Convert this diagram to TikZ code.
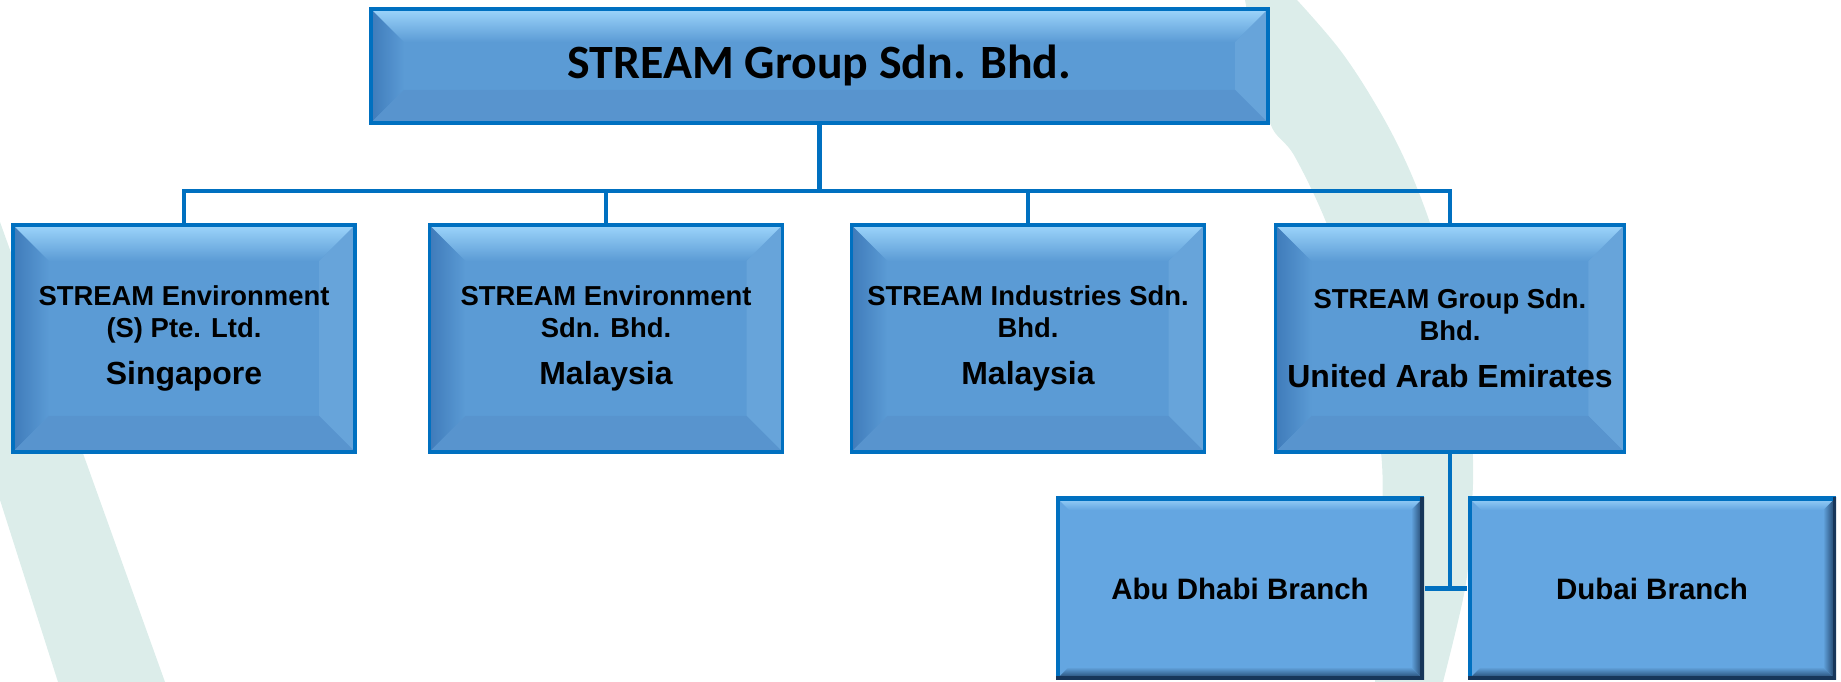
\documentclass[tikz,border=0pt]{standalone}
\usepackage{fontspec}
\setmainfont{Liberation Sans}
\newfontfamily\titlefont{Carlito}
\usetikzlibrary{positioning, calc}

\definecolor{boxfill}{HTML}{5B9BD5}
\definecolor{boxline}{HTML}{0070C0}
\definecolor{bevlight}{HTML}{9DD5FB}
\definecolor{bevleft}{HTML}{3F7BBA}
\definecolor{bevright}{HTML}{67A4DA}
\definecolor{bevbottom}{HTML}{5894CE}
\definecolor{branchfill}{HTML}{64A6E1}
\definecolor{branchdark}{HTML}{17365A}
\definecolor{swoosh}{HTML}{DCEDEA}

\begin{document}
\begin{tikzpicture}[node distance=4.22cm, on grid,
    bevel/.style={path picture={
        \coordinate (bNW) at (path picture bounding box.north west);
        \coordinate (bNE) at (path picture bounding box.north east);
        \coordinate (bSW) at (path picture bounding box.south west);
        \coordinate (bSE) at (path picture bounding box.south east);
        \shade[left color=bevleft, right color=boxfill] (bNW) -- ($(bNW)+(#1,-#1)$) -- ($(bSW)+(#1,#1)$) -- (bSW) -- cycle;
        \fill[bevright] (bNE) -- ($(bNE)+(-#1,-#1)$) -- ($(bSE)+(-#1,#1)$) -- (bSE) -- cycle;
        \fill[bevbottom] (bSW) -- ($(bSW)+(#1,#1)$) -- ($(bSE)+(-#1,#1)$) -- (bSE) -- cycle;
        \shade[top color=bevlight, bottom color=boxfill] (bNW) -- ($(bNW)+(#1,-#1)$) -- ($(bNE)+(-#1,-#1)$) -- (bNE) -- cycle;
    }},
    darkbevel/.style={path picture={
        \coordinate (bNW) at (path picture bounding box.north west);
        \coordinate (bNE) at (path picture bounding box.north east);
        \coordinate (bSW) at (path picture bounding box.south west);
        \coordinate (bSE) at (path picture bounding box.south east);
        \shade[left color=branchfill, right color=branchdark] (bNE) -- ($(bNE)+(-#1,-#1)$) -- ($(bSE)+(-#1,#1)$) -- (bSE) -- cycle;
        \shade[top color=branchfill, bottom color=branchdark] (bSW) -- ($(bSW)+(#1,#1)$) -- ($(bSE)+(-#1,#1)$) -- (bSE) -- cycle;
        \shade[top color=bevlight, bottom color=branchfill] (bNW) -- ($(bNW)+(#1,-#1)$) -- ($(bNE)+(-#1,-#1)$) -- (bNE) -- cycle;
        \draw[boxline, line width=2pt] (bSW) -- (bNW) -- (bNE);
        \draw[branchdark, line width=2pt] (bNE) -- (bSE) -- (bSW);
    }},
    head/.style={rectangle, draw=boxline, line width=1pt, fill=boxfill,
        minimum width=8.97cm, minimum height=1.14cm, bevel=0.33cm,
        font=\titlefont\bfseries\fontsize{13.6}{16}\selectfont},
    unit/.style={rectangle, draw=boxline, line width=1pt, fill=boxfill,
        minimum width=3.42cm, minimum height=2.27cm, bevel=0.36cm, align=center,
        font=\bfseries\fontsize{7.8}{9.1}\selectfont},
    wide/.style={minimum width=3.53cm},
    branch/.style={rectangle, fill=branchfill, minimum width=3.68cm,
        minimum height=1.83cm, darkbevel=0.13cm,
        font=\bfseries\fontsize{8.4}{10}\selectfont},
    link/.style={draw=boxline, line width=1.15pt}]

  \useasboundingbox (0,0) rectangle (18.41,6.82);

  %Background
  \fill[swoosh] (0,4.60) -- (1.65,0) -- (0.58,0) -- (0,1.82) -- cycle;
  \fill[swoosh] plot[smooth, tension=0.6] coordinates {(12.97,6.82) (13.40,6.32) (13.76,5.77) (14.05,5.22) (14.29,4.62) (14.50,3.92) (14.64,3.12) (14.73,2.22) (14.70,1.52) (14.65,0.93) (14.43,0)}
      -- plot[smooth, tension=0.6] coordinates {(13.75,0) (13.82,1.62) (13.80,2.40) (13.62,3.50) (13.30,4.50) (12.95,5.25) (12.70,5.59) (12.55,6.30) (12.45,6.82)} -- cycle;

  \node[head]          (group) at (8.195,6.16)  {STREAM Group Sdn. Bhd.};
  \node[unit]          (sg)    at (1.84,3.435)  {STREAM Environment\\(S) Pte. Ltd.\\[4.3pt]{\fontsize{9.1}{9.1}\selectfont Singapore}};
  \node[unit, wide]    (my)    [right=of sg]    {STREAM Environment\\Sdn. Bhd.\\[4.3pt]{\fontsize{9.1}{9.1}\selectfont Malaysia}};
  \node[unit, wide]    (ind)   [right=of my]    {STREAM Industries Sdn.\\Bhd.\\[4.3pt]{\fontsize{9.1}{9.1}\selectfont Malaysia}};
  \node[unit]          (uae)   [right=of ind]   {STREAM Group Sdn.\\Bhd.\\[4.3pt]{\fontsize{9.1}{9.1}\selectfont United Arab Emirates}};
  \node[branch]        (abu)   [below left=2.5cm and 2.1cm of uae]   {Abu Dhabi Branch};
  \node[branch]        (dxb)   [below right=2.5cm and 2.02cm of uae] {Dubai Branch};

  %Connectors
  \coordinate (bus) at ($(group.south)+(0,-0.66)$);
  \draw[link] (group.south) -- (bus);
  \foreach \n in {sg, my, ind, uae}
    \draw[link] (bus) -| (\n.north);
  \draw[link] (uae.south) |- (abu.east);
  \draw[link] (uae.south) |- (dxb.west);
\end{tikzpicture}
\end{document}
